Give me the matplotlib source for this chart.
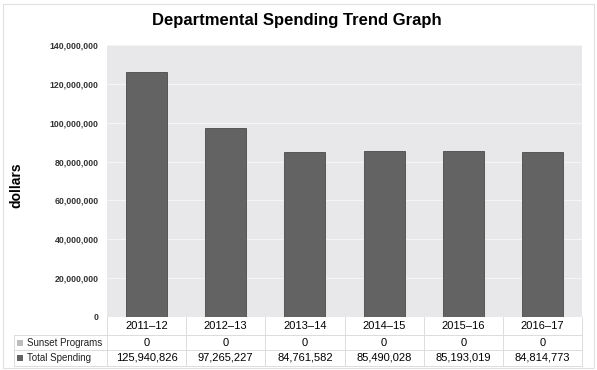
import matplotlib.pyplot as plt
from matplotlib.patches import Rectangle
from matplotlib.lines import Line2D
from matplotlib.ticker import FuncFormatter

plt.rcParams['font.family'] = ['Liberation Sans', 'DejaVu Sans']

# Data
years = ["2011\u201312", "2012\u201313", "2013\u201314", "2014\u201315", "2015\u201316", "2016\u201317"]
sunset_programs = [0, 0, 0, 0, 0, 0]
total_spending = [125940826, 97265227, 84761582, 85490028, 85193019, 84814773]
row_labels = ["Sunset Programs", "Total Spending"]

W, H = 597, 370
fig = plt.figure(figsize=(W / 100, H / 100), dpi=100)

# outer frame
fig.patches.append(Rectangle((3 / W, 2 / H), 591 / W, 364 / H, transform=fig.transFigure,
                             facecolor="none", edgecolor="#e0e0e0", lw=0.8))

ax_l, ax_r, ax_t, ax_b = 107, 582, 45, 317
ax = fig.add_axes([ax_l / W, 1 - ax_b / H, (ax_r - ax_l) / W, (ax_b - ax_t) / H])
ax.set_facecolor("#e8e8ea")
x = range(len(years))
ax.bar(x, total_spending, width=0.52, color="#636363", edgecolor="#4a4a4a", linewidth=0.6, zorder=3)
ax.set_xlim(-0.5, len(years) - 0.5)
ax.set_ylim(0, 140000000)
ax.set_yticks(range(0, 140000001, 20000000))
ax.yaxis.set_major_formatter(FuncFormatter(lambda v, p: f"{int(v):,}"))
ax.tick_params(axis="y", length=0, labelsize=6.3, labelcolor="#333333", pad=6)
for lab in ax.get_yticklabels():
    lab.set_fontweight("bold")
ax.set_xticks([])
ax.grid(axis="y", color="#f4f4f4", linewidth=0.8, zorder=0)
for s in ax.spines.values():
    s.set_visible(False)

fig.text(297 / W, 1 - 20 / H, "Departmental Spending Trend Graph", ha="center", va="center",
         fontsize=12, fontweight="bold")
fig.text(16 / W, 1 - 185 / H, "dollars", rotation=90, ha="center", va="center",
         fontsize=10, fontweight="bold")

# table below the axes
col_w = (ax_r - ax_l) / len(years)
row_y = [317, 335, 350, 366]
tab_l = 14
line_c = "#dcdcdc"

def hline(y, x0, x1):
    fig.add_artist(Line2D([x0 / W, x1 / W], [1 - y / H, 1 - y / H], color=line_c, lw=0.7))

def vline(xp, y0, y1):
    fig.add_artist(Line2D([xp / W, xp / W], [1 - y0 / H, 1 - y1 / H], color=line_c, lw=0.7))

hline(335, tab_l, ax_r)
hline(350, tab_l, ax_r)
hline(366, tab_l, ax_r)
vline(tab_l, 335, 366)
for i in range(len(years) + 1):
    vline(ax_l + i * col_w, 317, 366)

for i, yr in enumerate(years):
    cx = ax_l + (i + 0.5) * col_w
    fig.text(cx / W, 1 - 326 / H, yr, ha="center", va="center", fontsize=8)
    fig.text(cx / W, 1 - 342.5 / H, f"{sunset_programs[i]:,}", ha="center", va="center", fontsize=8)
    fig.text(cx / W, 1 - 358 / H, f"{total_spending[i]:,}", ha="center", va="center", fontsize=8)

swatch_colors = ["#bdbdbd", "#636363"]
for j, (lab, c) in enumerate(zip(row_labels, swatch_colors)):
    yc = (row_y[j + 1] + row_y[j + 2]) / 2
    fig.patches.append(Rectangle((17 / W, 1 - (yc + 3) / H), 6 / W, 6 / H,
                                 transform=fig.transFigure, facecolor=c, edgecolor="none"))
    fig.text(27 / W, 1 - yc / H, lab, ha="left", va="center", fontsize=7, color="#222222")

fig.savefig("out.png", dpi=100)
